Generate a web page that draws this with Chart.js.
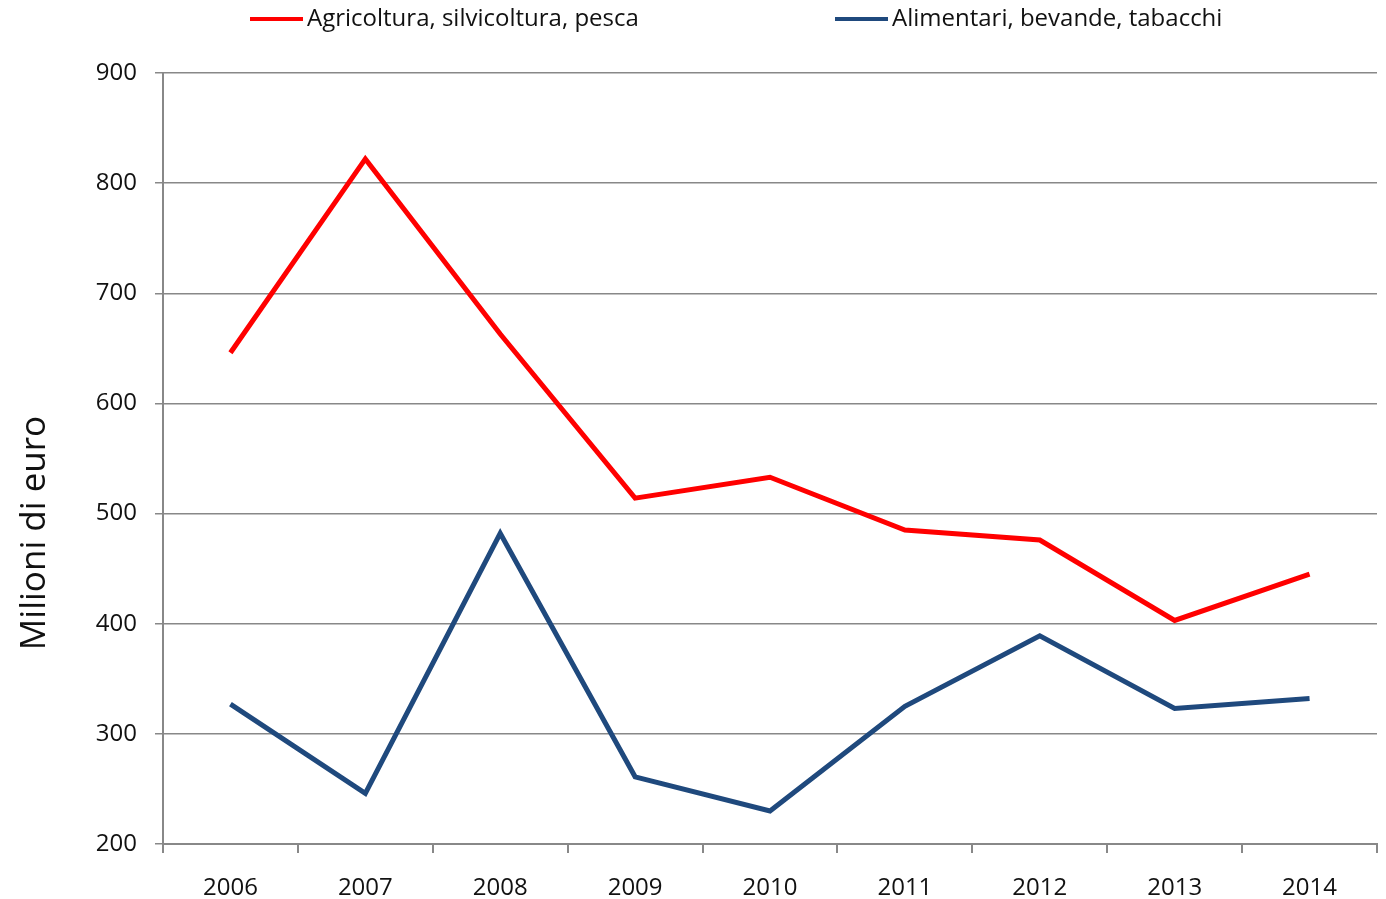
<!DOCTYPE html>
<html>
<head>
<meta charset="utf-8">
<script src="https://cdn.jsdelivr.net/npm/chart.js@4"></script>
<style>
  html, body { margin: 0; padding: 0; background: #fff; }
  #wrap { width: 1386px; height: 899px; position: relative; }
</style>
</head>
<body>
<div id="wrap"><canvas id="chart"></canvas></div>
<script>
// data
const years = ['2006', '2007', '2008', '2009', '2010', '2011', '2012', '2013', '2014'];
const agricoltura = [646, 822, 663, 514, 533, 485, 476, 403, 445];
const alimentari = [327, 246, 482, 261, 230, 325, 389, 323, 332];
const seriesNames = ['Agricoltura, silvicoltura, pesca', 'Alimentari, bevande, tabacchi'];
const yTitle = 'Milioni di euro';

const FONT = '"Open Sans", "Noto Sans", sans-serif';
const GRID = '#888888';

// legend + axis title drawn on canvas so they sit where the original puts them
const extras = {
    id: 'extras',
    afterDraw(chart) {
        const ctx = chart.ctx;
        const spots = [250, 835]; // left end of each legend line
        ctx.save();
        ctx.font = '24px ' + FONT;
        ctx.textBaseline = 'middle';
        chart.data.datasets.forEach((ds, i) => {
            const x = spots[i];
            ctx.strokeStyle = ds.borderColor;
            ctx.lineWidth = 4;
            ctx.beginPath();
            ctx.moveTo(x, 19);
            ctx.lineTo(x + 53, 19);
            ctx.stroke();
            ctx.fillStyle = '#111';
            ctx.fillText(ds.label, x + 57, 19);
        });

        // vertical title, a bit below the middle of the axis like the original
        ctx.translate(35, 533);
        ctx.rotate(-Math.PI / 2);
        ctx.font = '35px ' + FONT;
        ctx.textAlign = 'center';
        ctx.fillText(yTitle, 0, 0);
        ctx.restore();
    }
};

const ctx = document.getElementById('chart').getContext('2d');
const chart = new Chart(ctx, {
    type: 'line',
    data: {
        labels: years,
        datasets: [{
            label: seriesNames[0],
            data: agricoltura,
            borderColor: '#ff0000',
            backgroundColor: '#ff0000',
            borderWidth: 5,
            pointRadius: 0,
            tension: 0
        }, {
            label: seriesNames[1],
            data: alimentari,
            borderColor: '#1f497d',
            backgroundColor: '#1f497d',
            borderWidth: 5,
            pointRadius: 0,
            tension: 0
        }]
    },
    options: {
        responsive: true,
        maintainAspectRatio: false,
        animation: false,
        layout: { padding: { top: 73, right: 9, left: 0, bottom: 0 } },
        plugins: {
            legend: { display: false },
            tooltip: { enabled: false }
        },
        scales: {
            x: {
                offset: true,
                grid: {
                    offset: true,
                    drawOnChartArea: false,
                    drawTicks: true,
                    tickLength: 9,
                    color: GRID,
                    lineWidth: 2
                },
                border: { display: true, color: GRID, width: 2 },
                ticks: {
                    color: '#111',
                    padding: 21,
                    maxRotation: 0,
                    font: { family: FONT, size: 24 }
                },
                afterFit(scale) { scale.height = 55; }
            },
            y: {
                min: 200,
                max: 900,
                ticks: {
                    stepSize: 100,
                    color: '#111',
                    padding: 18,
                    font: { family: FONT, size: 24 }
                },
                grid: {
                    color: GRID,
                    lineWidth: 1.5,
                    tickLength: 8
                },
                border: { display: true, color: GRID, width: 2 },
                afterFit(scale) { scale.width = 163; }
            }
        }
    },
    plugins: [extras]
});
</script>
</body>
</html>
